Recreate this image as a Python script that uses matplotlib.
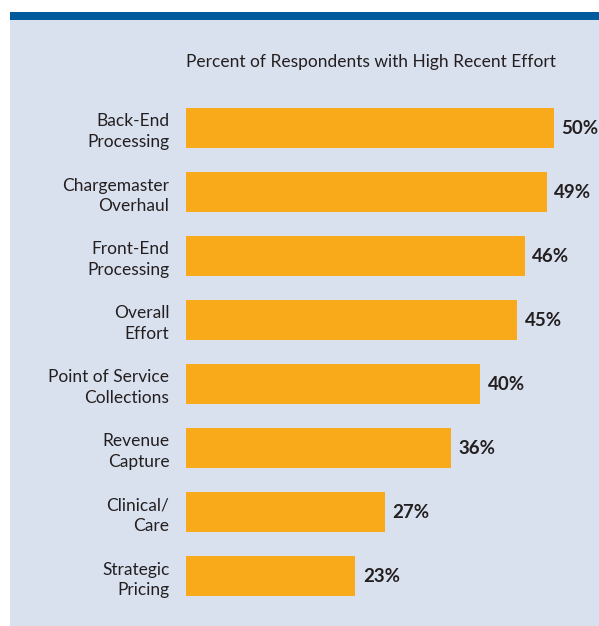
import matplotlib.pyplot as plt
from matplotlib.patches import Rectangle

plt.rcParams['font.family'] = ['Lato', 'DejaVu Sans']

categories = [
    "Back-End\nProcessing",
    "Chargemaster\nOverhaul",
    "Front-End\nProcessing",
    "Overall\nEffort",
    "Point of Service\nCollections",
    "Revenue\nCapture",
    "Clinical/\nCare",
    "Strategic\nPricing",
]
values = [50, 49, 46, 45, 40, 36, 27, 23]
title = "Percent of Respondents with High Recent Effort"

W, H = 599, 626
panel_color = "#dae1ee"
strip_color = "#005a9c"
bar_color = "#f9aa1a"
text_color = "#231f20"

fig = plt.figure(figsize=(W / 100, H / 100), dpi=100)
fig.patch.set_facecolor("white")

# light panel with the dark blue strip on top
fig.add_artist(Rectangle((10 / W, 0), 1, (H - 20) / H, transform=fig.transFigure,
                         facecolor=panel_color, edgecolor="none", zorder=0))
fig.add_artist(Rectangle((10 / W, (H - 20) / H), 1, 8 / H, transform=fig.transFigure,
                         facecolor=strip_color, edgecolor="none", zorder=0))

# axes: x from 186px, 7.36 px per percent; rows 64px apart
xmax = 55
left, top, bottom = 186, 96, 608
ax = fig.add_axes([left / W, (H - bottom) / H, 7.36 * xmax / W, (bottom - top) / H])
ax.set_facecolor("none")

ypos = list(range(len(values)))
ax.barh(ypos, values, height=40 / 64, color=bar_color, edgecolor="none")
ax.set_xlim(0, xmax)
ax.set_ylim(len(values) - 0.5, -0.5)

for y, v in zip(ypos, values):
    ax.annotate(f"{v}%", (v, y), xytext=(5.5, 0), textcoords="offset points",
                ha="left", va="center", fontsize=13.5, fontweight="bold", color=text_color)

ax.set_yticks(ypos)
ax.set_yticklabels(categories, fontsize=12.5, color=text_color, linespacing=1.35)
ax.tick_params(axis="y", length=0, pad=12)
ax.set_xticks([])
for s in ax.spines.values():
    s.set_visible(False)

fig.text(371 / W, 1 - 62 / H, title, ha="center", va="center",
         fontsize=12.5, color=text_color)

fig.savefig("out.png", dpi=100, facecolor="white")
